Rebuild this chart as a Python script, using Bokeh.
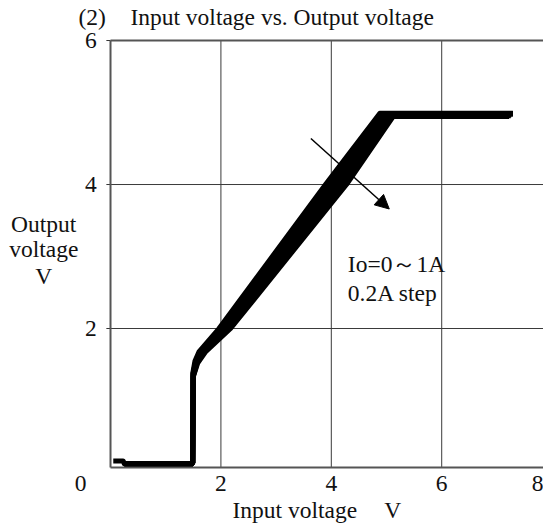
from bokeh.plotting import figure
from bokeh.models import Arrow, NormalHead, Range1d
from bokeh.core.properties import value
from bokeh.embed import file_html
from bokeh.resources import INLINE

# ---- data ----
x_ticks = [2, 4, 6]
x_tick_labels = ["2", "4", "6", "8"]
x_label_values = [2, 4, 6, 8]
y_ticks = [2, 4, 6]
y_tick_labels = ["2", "4", "6"]

vin_io00 = [0.05, 0.23, 0.25, 1.47, 1.49, 1.49, 1.53, 1.605, 1.965, 3.895, 4.88, 7.29]
vout_io00 = [0.16, 0.16, 0.12, 0.12, 0.14, 1.38, 1.55, 1.68, 2.0, 4.0, 4.99, 4.99]
vin_io02 = [0.25, 1.47, 1.49, 1.495, 1.54, 1.63, 2.005, 3.97, 4.93, 7.29]
vout_io02 = [0.12, 0.12, 0.14, 1.37, 1.54, 1.68, 2.0, 4.0, 4.985, 4.985]
vin_io04 = [0.25, 1.47, 1.49, 1.50, 1.55, 1.655, 2.05, 4.05, 4.98, 7.29]
vout_io04 = [0.12, 0.12, 0.14, 1.36, 1.53, 1.68, 2.0, 4.0, 4.975, 4.975]
vin_io06 = [0.25, 1.47, 1.49, 1.50, 1.56, 1.68, 2.09, 4.12, 5.03, 7.26]
vout_io06 = [0.12, 0.12, 0.14, 1.35, 1.53, 1.68, 2.0, 4.0, 4.965, 4.965]
vin_io08 = [0.25, 1.47, 1.49, 1.50, 1.57, 1.70, 2.13, 4.20, 5.08, 7.25]
vout_io08 = [0.12, 0.12, 0.14, 1.34, 1.52, 1.68, 2.0, 4.0, 4.955, 4.955]
vin_io10 = [0.25, 1.47, 1.49, 1.50, 1.58, 1.725, 2.175, 4.275, 5.12, 7.22]
vout_io10 = [0.12, 0.12, 0.14, 1.33, 1.52, 1.68, 2.0, 4.0, 4.945, 4.945]

curves = [(vin_io00, vout_io00), (vin_io02, vout_io02), (vin_io04, vout_io04),
          (vin_io06, vout_io06), (vin_io08, vout_io08), (vin_io10, vout_io10)]

# ---- layout / style ----
FONT = "Liberation Serif"
FS = "23.5px"
TXT = "#111111"
X0, X1 = -1.993, 7.844      # visible canvas in data units
Y0, Y1 = -0.750, 6.556
BOX_X0, BOX_Y0, BOX_Y1 = 0.0, 0.07, 6.0

p = figure(width=543, height=526, output_backend="svg", toolbar_location=None,
           x_range=Range1d(X0, X1), y_range=Range1d(Y0, Y1),
           min_border_left=0, min_border_right=0, min_border_top=0, min_border_bottom=0)
p.xaxis.visible = False
p.yaxis.visible = False
p.xgrid.visible = False
p.ygrid.visible = False
p.outline_line_color = None
p.background_fill_color = "white"
p.border_fill_color = "white"

# grid lines from the tick lists
p.segment(x0=x_ticks, y0=[BOX_Y0] * len(x_ticks), x1=x_ticks, y1=[BOX_Y1] * len(x_ticks),
          line_color="#3a3a3a", line_width=1)
gy = [t for t in y_ticks if t < BOX_Y1]
p.segment(x0=[BOX_X0] * len(gy), y0=gy, x1=[X1] * len(gy), y1=gy,
          line_color="#3a3a3a", line_width=1)
# y tick marks
p.segment(x0=[-0.075] * len(y_ticks), y0=y_ticks, x1=[BOX_X0] * len(y_ticks), y1=y_ticks,
          line_color="#333333", line_width=1)
# frame (left, bottom, top; right edge lies outside the picture)
p.segment(x0=[BOX_X0, BOX_X0, BOX_X0], y0=[BOX_Y0, BOX_Y0, BOX_Y1],
          x1=[BOX_X0, X1, X1], y1=[BOX_Y1, BOX_Y0, BOX_Y1],
          line_color="#555555", line_width=2)

# data curves
for vx, vy in curves:
    p.line(vx, vy, line_color="black", line_width=5, line_join="round")

p.add_layout(Arrow(end=NormalHead(size=14, fill_color="black", line_color="black"),
                   x_start=3.63, y_start=4.64, x_end=5.05, y_end=3.66,
                   line_color="black", line_width=1.5))

def txt(xs, ys, texts, align="center", size=FS):
    p.text(x=xs, y=ys, text=texts, text_font=value(FONT), text_font_size=value(size),
           text_color=TXT, text_align=align, text_baseline="middle")

# tick labels
txt([-0.25] * len(y_ticks), y_ticks, y_tick_labels, align="right")
xl_x = [min(v, X1) for v in x_label_values]
for v, xv, lab in zip(x_label_values, xl_x, x_tick_labels):
    txt([xv], [-0.153], [lab], align="center" if v < X1 else "right")
txt([-0.54], [-0.153], ["0"])

# annotation
txt([4.30, 4.30], [2.89, 2.49], ["Io=0～1A", "0.2A step"], align="left")

# title
txt([-0.58], [6.32], ["(2)"], align="left")
txt([0.36], [6.32], ["Input voltage vs. Output voltage"], align="left")

# axis titles
txt([-1.21, -1.21, -1.21], [3.458, 3.111, 2.736], ["Output", "voltage", "V"])
txt([2.21], [-0.52], ["Input voltage"], align="left")
txt([4.96], [-0.52], ["V"], align="left")

open("out.html", "w").write(file_html(p, INLINE))
